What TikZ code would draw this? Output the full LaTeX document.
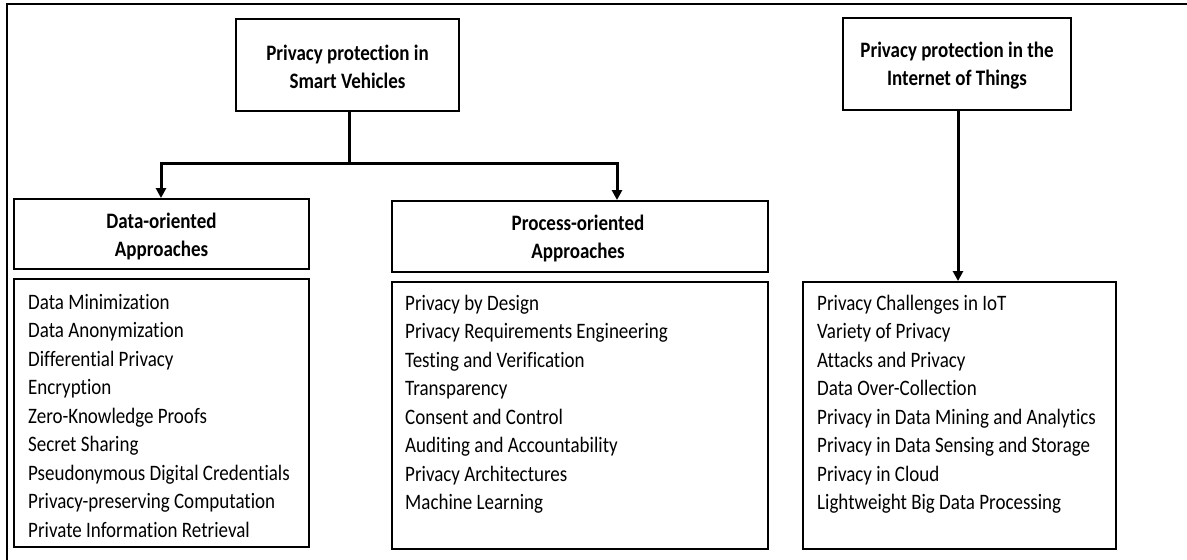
\documentclass[tikz,border=0pt]{standalone}
\usepackage{fontspec}
\setmainfont{Carlito}[Ligatures=NoCommon]
\usetikzlibrary{arrows.meta}
\newcommand\vstretch[1]{\scalebox{1}[1.16]{#1}}
\begin{document}
\begin{tikzpicture}[x=1pt,y=-1pt,
  box/.style={draw,line width=1.9pt,inner sep=0pt,align=center},
  titletext/.style={font=\fontsize{19}{28}\selectfont\bfseries},
  item/.style={anchor=base west,inner sep=0pt,font=\fontsize{19}{23}\selectfont},
  conn/.style={line width=3pt},
  arr/.style={line width=3pt,-{Triangle[width=10pt,length=10pt]}}]
\useasboundingbox (0,0) rectangle (1187,560);
% outer frame (cropped)
\draw[line width=1.6pt] (1187,4) -- (7,4) -- (7,560);
% title boxes
\node[box,titletext,minimum width=223pt,minimum height=92pt] (sv) at (347.5,65) {};
\node[titletext,align=center,inner sep=0pt] (svt) at (347.5,67) {\vstretch{Privacy protection in}\\\vstretch{Smart Vehicles}};
\node[box,titletext,minimum width=228pt,minimum height=92pt] (iot) at (957,64) {};
\node[titletext,align=center,inner sep=0pt] (iott) at (957,65.5) {\vstretch{Privacy protection in the}\\\vstretch{Internet of Things}};
\node[box,titletext,minimum width=295pt,minimum height=70pt] (data) at (161.5,234) {};
\node[titletext,align=center,inner sep=0pt] (datat) at (161.5,236.5) {\vstretch{Data-oriented}\\\vstretch{Approaches}};
\node[box,titletext,minimum width=376pt,minimum height=71pt] (proc) at (580,236.5) {};
\node[titletext,align=center,inner sep=0pt] (proct) at (578,238.5) {\vstretch{Process-oriented}\\\vstretch{Approaches}};
% list boxes
\node[box,minimum width=295pt,minimum height=268pt] (dlist) at (161.5,413) {};
\node[box,minimum width=376pt,minimum height=267pt] (plist) at (580,415.5) {};
\node[box,minimum width=313pt,minimum height=267pt] (ilist) at (959.5,415.5) {};
% list items
\foreach \t [count=\i from 0] in {Data Minimization,Data Anonymization,Differential Privacy,Encryption,Zero-Knowledge Proofs,Secret Sharing,Pseudonymous Digital Credentials,Privacy-preserving Computation,Private Information Retrieval}
  \node[item] (d\i) at (28,309+28.5*\i) {\vstretch{\t}};
\foreach \t [count=\i from 0] in {Privacy by Design,Privacy Requirements Engineering,Testing and Verification,Transparency,Consent and Control,Auditing and Accountability,Privacy Architectures,Machine Learning}
  \node[item] (p\i) at (405,310+28.5*\i) {\vstretch{\t}};
\foreach \t [count=\i from 0] in {Privacy Challenges in IoT,Variety of Privacy,Attacks and Privacy,Data Over-Collection,Privacy in Data Mining and Analytics,Privacy in Data Sensing and Storage,Privacy in Cloud,Lightweight Big Data Processing}
  \node[item] (i\i) at (817,310+28.5*\i) {\vstretch{\t}};
% connectors
\coordinate (j) at (349,163);
\coordinate (jl) at (161,163);
\coordinate (jr) at (617,163);
\draw[conn] (sv.south -| j) -- (j);
\draw[arr] (j) -- (jl) -- (jl |- data.north);
\draw[arr] (j) -- (jr) -- (jr |- proc.north);
\draw[arr] (iot.south -| 958,0) -- (ilist.north -| 958,0);
\end{tikzpicture}
\end{document}
